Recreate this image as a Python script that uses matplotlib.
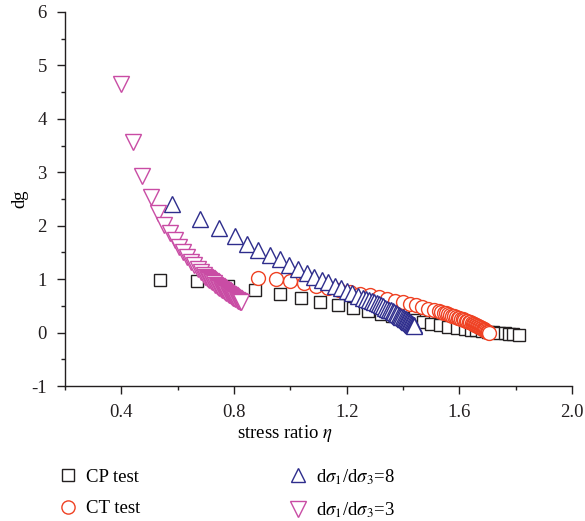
import matplotlib.pyplot as plt
import matplotlib.ticker as ticker
from matplotlib.lines import Line2D

# CP test (conventional compression)
cp_eta = [0.537, 0.669, 0.779, 0.875, 0.963, 1.038, 1.105, 1.168, 1.224, 1.275,
          1.320, 1.360, 1.400, 1.440, 1.470, 1.500, 1.530, 1.560, 1.590, 1.620,
          1.640, 1.660, 1.680, 1.700, 1.720, 1.740, 1.760, 1.775, 1.790, 1.810]
cp_dg = [0.99, 0.96, 0.88, 0.80, 0.72, 0.65, 0.58, 0.52, 0.46, 0.40,
         0.35, 0.31, 0.27, 0.23, 0.20, 0.17, 0.14, 0.11, 0.09, 0.07,
         0.05, 0.04, 0.03, 0.02, 0.01, 0.00, -0.01, -0.02, -0.03, -0.04]

# CT test
ct_eta = [0.886, 0.948, 1.000, 1.048, 1.092, 1.134, 1.174, 1.212, 1.248, 1.282,
          1.314, 1.344, 1.372, 1.398, 1.423, 1.446, 1.468, 1.489, 1.509, 1.528,
          1.536, 1.544, 1.552, 1.560, 1.567, 1.574, 1.581, 1.588, 1.594, 1.600,
          1.606, 1.612, 1.618, 1.623, 1.628, 1.633, 1.638, 1.643, 1.647, 1.651,
          1.655, 1.659, 1.663, 1.667, 1.671, 1.674, 1.677, 1.680, 1.683, 1.686,
          1.689, 1.692, 1.695, 1.698, 1.701, 1.703, 1.706]
ct_dg = [1.02, 1.00, 0.96, 0.92, 0.88, 0.84, 0.80, 0.76, 0.73, 0.70,
         0.66, 0.63, 0.60, 0.57, 0.54, 0.51, 0.48, 0.45, 0.42, 0.40,
         0.39, 0.37, 0.36, 0.35, 0.33, 0.32, 0.31, 0.30, 0.28, 0.27,
         0.26, 0.25, 0.23, 0.22, 0.21, 0.20, 0.19, 0.18, 0.17, 0.16,
         0.15, 0.14, 0.13, 0.12, 0.11, 0.10, 0.09, 0.08, 0.07, 0.06,
         0.05, 0.04, 0.03, 0.02, 0.01, 0.005, 0.00]

# dsigma1/dsigma3 = 8
r8_eta = [0.579, 0.679, 0.747, 0.804, 0.847, 0.886, 0.928, 0.963, 0.996, 1.028,
          1.058, 1.084, 1.111, 1.135, 1.159, 1.180, 1.200, 1.220, 1.240, 1.258,
          1.268, 1.278, 1.288, 1.297, 1.306, 1.314, 1.322, 1.330, 1.337, 1.344,
          1.351, 1.357, 1.363, 1.369, 1.375, 1.380, 1.385, 1.390, 1.394, 1.398,
          1.402, 1.406, 1.410, 1.413, 1.416, 1.419, 1.422, 1.425, 1.428, 1.430,
          1.432, 1.434, 1.436, 1.438, 1.440]
r8_dg = [2.40, 2.12, 1.95, 1.80, 1.66, 1.55, 1.46, 1.37, 1.27, 1.19,
         1.12, 1.05, 0.99, 0.94, 0.88, 0.83, 0.78, 0.74, 0.69, 0.65,
         0.63, 0.61, 0.59, 0.57, 0.55, 0.53, 0.51, 0.49, 0.47, 0.45,
         0.43, 0.42, 0.40, 0.38, 0.37, 0.35, 0.33, 0.32, 0.30, 0.29,
         0.27, 0.26, 0.25, 0.23, 0.22, 0.21, 0.20, 0.19, 0.18, 0.17,
         0.16, 0.15, 0.14, 0.14, 0.13]

# dsigma1/dsigma3 = 3
r3_eta = [0.399, 0.440, 0.474, 0.504, 0.530, 0.552, 0.572, 0.589, 0.604, 0.618,
          0.633, 0.647, 0.659, 0.671, 0.682, 0.693, 0.698, 0.703, 0.708, 0.713,
          0.718, 0.723, 0.728, 0.733, 0.738, 0.743, 0.748, 0.753, 0.757, 0.761,
          0.765, 0.769, 0.773, 0.777, 0.781, 0.785, 0.789, 0.793, 0.797, 0.801,
          0.805, 0.809, 0.813, 0.817, 0.821, 0.825]
r3_dg = [4.66, 3.56, 2.94, 2.53, 2.23, 2.02, 1.86, 1.73, 1.61, 1.50,
         1.41, 1.33, 1.26, 1.19, 1.13, 1.08, 1.05, 1.03, 1.00, 0.98,
         0.96, 0.94, 0.92, 0.90, 0.88, 0.86, 0.84, 0.82, 0.80, 0.79,
         0.77, 0.76, 0.74, 0.73, 0.71, 0.70, 0.68, 0.67, 0.65, 0.64,
         0.62, 0.61, 0.60, 0.59, 0.58, 0.57]

plt.rcParams['font.family'] = ['Liberation Serif', 'DejaVu Serif']
plt.rcParams['mathtext.fontset'] = 'stix'

fig = plt.figure(figsize=(5.85, 5.21), dpi=100)
ax = fig.add_axes([0.111, 0.259, 0.867, 0.718])

ink = '#231f20'
series = [
    (cp_eta, cp_dg, 's', ink, 9.0, 'CP test'),
    (ct_eta, ct_dg, 'o', '#ef4123', 10.0, 'CT test'),
    (r8_eta, r8_dg, '^', '#2e2d8c', 11.0, r'd$\sigma_1$/d$\sigma_3$=8'),
    (r3_eta, r3_dg, 'v', '#c94ca4', 12.0, r'd$\sigma_1$/d$\sigma_3$=3'),
]

handles = []
for x, y, m, c, ms, lab in series:
    ax.plot(x, y, linestyle='none', marker=m, ms=ms, mfc='white',
            mec=c, mew=1.0, clip_on=False)
    handles.append(Line2D([], [], linestyle='none', marker=m, ms=ms * 0.95,
                          mfc='white', mec=c, mew=1.0, label=lab))

ax.set_xlim(0.2, 2.0)
ax.set_ylim(-1, 6)
ax.xaxis.set_major_locator(ticker.MultipleLocator(0.4))
ax.xaxis.set_minor_locator(ticker.MultipleLocator(0.2))
ax.yaxis.set_major_locator(ticker.MultipleLocator(1))
ax.yaxis.set_minor_locator(ticker.MultipleLocator(0.5))
ax.xaxis.set_major_formatter(ticker.FormatStrFormatter('%.1f'))
ax.yaxis.set_major_formatter(ticker.FuncFormatter(lambda v, p: '%d' % v))

for s in ['top', 'right']:
    ax.spines[s].set_visible(False)
for s in ['left', 'bottom']:
    ax.spines[s].set_linewidth(1.0)
    ax.spines[s].set_color(ink)

ax.tick_params(which='major', direction='out', length=5.5, width=1.0,
               labelsize=13.5, colors=ink, pad=7.5)
ax.tick_params(which='minor', direction='out', length=3, width=1.0,
               colors=ink)

ax.set_xlabel(r'stress ratio $\eta$', fontsize=13.5)
ax.xaxis.set_label_coords(0.434, -0.10)
ax.set_ylabel('dg', fontsize=13.5)
ax.yaxis.set_label_coords(-0.073, 0.5)

fig.legend(handles=handles, ncol=2, frameon=False, loc='upper left',
           bbox_to_anchor=(0.088, 0.118), fontsize=13.5, handlelength=1.0,
           handletextpad=0.45, columnspacing=7.9, labelspacing=0.75,
           borderaxespad=0)

fig.savefig('out.png', dpi=100)
